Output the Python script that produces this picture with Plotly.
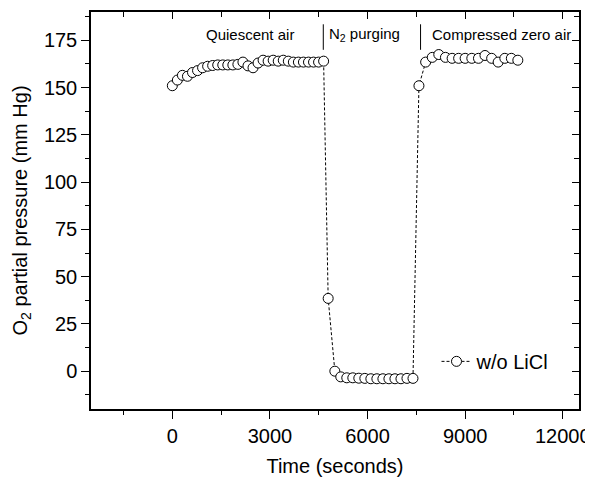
import plotly.graph_objects as go

# ---- data ----
time_s = [0, 155, 310, 465, 620, 775, 930, 1085, 1240, 1395, 1550, 1705, 1860, 2015,
          2170, 2325, 2480, 2635, 2790, 2945, 3100, 3255, 3410, 3565, 3720, 3875,
          4030, 4185, 4340, 4495, 4650,
          4790,
          4995, 5177, 5362, 5547, 5732, 5917, 6102, 6287, 6472, 6657, 6842, 7027, 7212, 7397,
          7580,
          7786, 7990, 8190, 8395, 8600, 8800, 9000, 9205, 9410, 9610, 9815, 10015,
          10220, 10420, 10620]
o2_mmHg = [151, 154, 156.5, 156, 158, 159, 160.5, 161.3, 161.7, 162, 162, 162, 162, 162.3,
           163.5, 161.5, 160.5, 163, 164.5, 164, 164.5, 164, 164.5, 164, 163.5, 163.5,
           163.5, 163.5, 163.5, 163.5, 164,
           38.5,
           0, -3, -3.5, -3.5, -3.7, -3.8, -4, -4, -4, -4, -4, -4, -3.8, -3.8,
           151,
           163.5, 166, 167.5, 166, 165.5, 165.5, 165.5, 165.5, 165.5, 167, 165.5, 163.5,
           165.5, 165.5, 164.5]

series_name = "w/o LiCl"
phase_labels = ["Quiescent air", "N<sub>2</sub> purging", "Compressed zero air"]
phase_label_x = [2400, 5900, 10120]
phase_divider_x = [4640, 7630]

x_range = [-2500, 12500]
y_range = [-20, 190]
x_ticks = [0, 3000, 6000, 9000, 12000]
x_ticktext = ["0", "3000", "6000", "9000", "12000"]
y_ticks = [0, 25, 50, 75, 100, 125, 150, 175]
y_ticktext = ["0", "25", "50", "75", "100", "125", "150", "175"]

FONT = "Liberation Sans, Arial, sans-serif"

fig = go.Figure()
fig.add_trace(go.Scatter(
    x=time_s, y=o2_mmHg, mode="lines+markers", name=series_name,
    line=dict(color="black", width=1, dash="3px,2px"),
    marker=dict(symbol="circle", size=10, color="white",
                line=dict(color="black", width=1)),
))

# invisible trace to carry mirrored (inward) ticks on top/right
fig.add_trace(go.Scatter(x=[None], y=[None], xaxis="x2", yaxis="y2",
                         showlegend=False, hoverinfo="skip"))

for lab, lx in zip(phase_labels, phase_label_x):
    fig.add_annotation(x=lx, y=178, text=lab, showarrow=False,
                       font=dict(family=FONT, size=15, color="black"),
                       xanchor="center", yanchor="middle")
for dx in phase_divider_x:
    fig.add_shape(type="line", x0=dx, x1=dx, y0=170, y1=183.5,
                  line=dict(color="black", width=1))

axis_common = dict(showgrid=False, zeroline=False, linecolor="black", linewidth=1.5,
                   tickcolor="black", tickwidth=1.2, automargin=False)

# the page body adds an 8px offset, so the figure is 8px smaller on each axis
fig.update_layout(
    width=585, height=469,
    margin=dict(l=83, r=14, t=4, b=68, autoexpand=False),
    paper_bgcolor="white", plot_bgcolor="white",
    font=dict(family=FONT, size=20, color="black"),
    showlegend=True,
    legend=dict(x=0.708, y=0.12, xanchor="left", yanchor="middle",
                bgcolor="rgba(0,0,0,0)", borderwidth=0,
                font=dict(family=FONT, size=20)),
    xaxis=dict(range=x_range, tickvals=x_ticks, ticktext=x_ticktext,
               ticks="outside", ticklen=8,
               minor=dict(dtick=1500, tick0=0, ticks="outside", ticklen=4,
                          tickcolor="black", tickwidth=1.2),
               title=dict(text="Time (seconds)", standoff=14,
                          font=dict(family=FONT, size=20)),
               **axis_common),
    yaxis=dict(range=y_range, tickvals=y_ticks, ticktext=y_ticktext,
               ticks="outside", ticklen=8,
               minor=dict(dtick=12.5, tick0=0, ticks="outside", ticklen=4,
                          tickcolor="black", tickwidth=1.2),
               title=dict(text="O<sub>2</sub> partial pressure (mm Hg)", standoff=11,
                          font=dict(family=FONT, size=20)),
               **axis_common),
    xaxis2=dict(range=x_range, overlaying="x", side="top", tickvals=x_ticks,
                ticks="inside", ticklen=7, showticklabels=False,
                minor=dict(dtick=1500, tick0=0, ticks="inside", ticklen=5,
                           tickcolor="black", tickwidth=1.2),
                **axis_common),
    yaxis2=dict(range=y_range, overlaying="y", side="right", tickvals=y_ticks,
                ticks="inside", ticklen=7, showticklabels=False,
                minor=dict(dtick=12.5, tick0=0, ticks="inside", ticklen=5,
                           tickcolor="black", tickwidth=1.2),
                **axis_common),
)

fig.write_html("out.html")
